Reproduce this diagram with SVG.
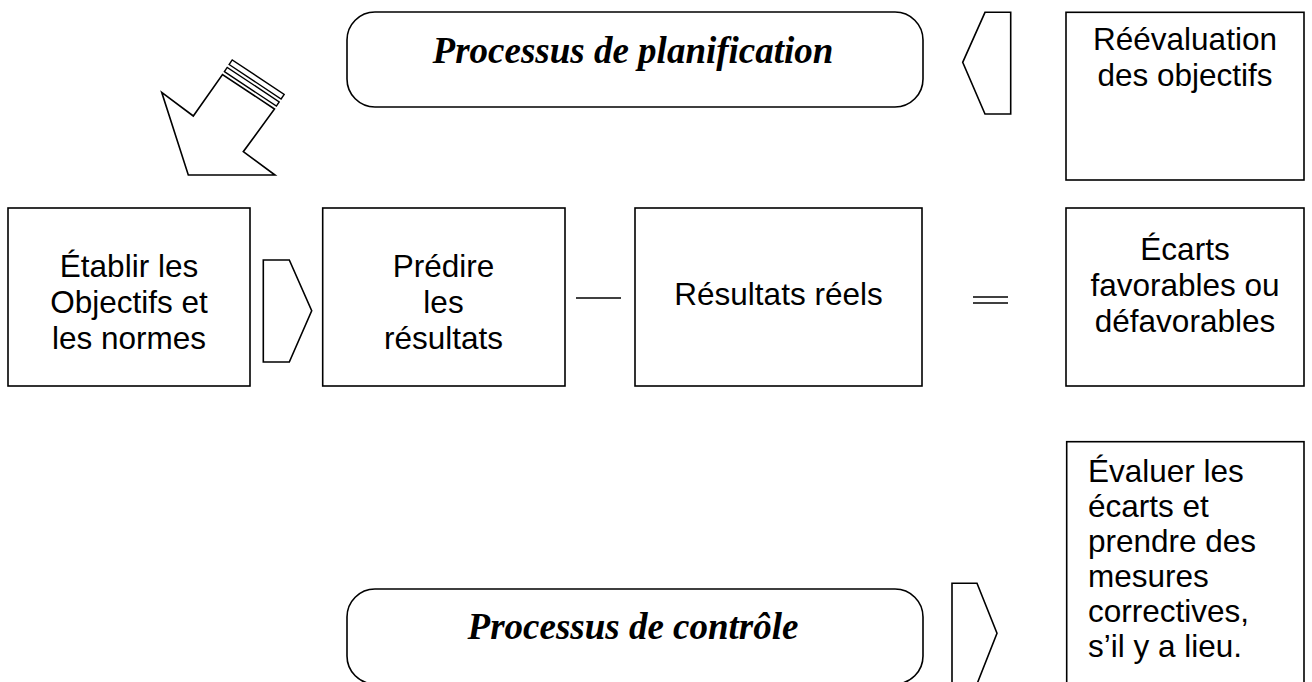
<svg xmlns="http://www.w3.org/2000/svg" width="1312" height="682" viewBox="0 0 1312 682">
<style>
.box{fill:#fff;stroke:#000;stroke-width:1.6}
.shp{fill:#fff;stroke:#000;stroke-width:1.6;stroke-linejoin:miter}
.stp{fill:#fff;stroke:#000;stroke-width:1.4}
.ln{fill:none;stroke:#000;stroke-width:1.6}
.t{font-family:"Liberation Sans",Arial,sans-serif;font-size:31.5px;fill:#000}
.c{text-anchor:middle}
.s{font-family:"Liberation Serif","Times New Roman",serif;font-size:37px;font-weight:bold;font-style:italic;fill:#000;text-anchor:middle}
</style>
<rect width="1312" height="682" fill="#fff"/>
<g id="connectors">
  <polygon class="shp" points="161.7,92.3 193.3,116 222.5,74.5 274.5,109 243.3,151.7 275,175 188.3,175"/>
  <polygon class="stp" points="224.4,71.6 276.4,106.1 279.2,101.9 227.2,67.4"/>
  <polygon class="stp" points="229.1,64.5 281.1,99 284.2,94.4 232.2,59.9"/>
  <polygon class="shp" points="985,12.3 1010.7,12.3 1010.7,114 985,114 962.7,62.3"/>
  <polygon class="shp" points="263.3,260 289.3,260 311.7,310.7 289.3,362 263.3,362"/>
  <polygon class="shp" points="952,583.3 977,583.3 997,633.3 977,684 952,684"/>
  <line class="ln" x1="576" y1="298" x2="621" y2="298"/>
  <line class="ln" x1="973" y1="297" x2="1008" y2="297"/>
  <line class="ln" x1="973" y1="303" x2="1008" y2="303"/>
</g>
<g id="planification">
  <rect class="box" x="347" y="12" width="576" height="95" rx="28" ry="28"/>
  <text class="s" x="633" y="63">Processus de planification</text>
</g>
<g id="reevaluation">
  <rect class="box" x="1066" y="12.3" width="238" height="167.7"/>
  <text class="t c" x="1185" y="50">Réévaluation</text>
  <text class="t c" x="1185" y="86">des objectifs</text>
</g>
<g id="etablir">
  <rect class="box" x="8" y="208" width="242" height="178"/>
  <text class="t c" x="129" y="277">Établir les</text>
  <text class="t c" x="129" y="313">Objectifs et</text>
  <text class="t c" x="129" y="349">les normes</text>
</g>
<g id="predire">
  <rect class="box" x="322.7" y="208" width="242.3" height="178"/>
  <text class="t c" x="443.5" y="277">Prédire</text>
  <text class="t c" x="443.5" y="313">les</text>
  <text class="t c" x="443.5" y="349">résultats</text>
</g>
<g id="resultats">
  <rect class="box" x="635" y="208" width="287" height="178"/>
  <text class="t c" x="778.5" y="305">Résultats réels</text>
</g>
<g id="ecarts">
  <rect class="box" x="1066" y="208" width="238" height="178"/>
  <text class="t c" x="1185" y="260">Écarts</text>
  <text class="t c" x="1185" y="296">favorables ou</text>
  <text class="t c" x="1185" y="332">défavorables</text>
</g>
<g id="evaluer">
  <rect class="box" x="1066.7" y="441.7" width="237.3" height="260"/>
  <text class="t" x="1088" y="482">Évaluer les</text>
  <text class="t" x="1088" y="517">écarts et</text>
  <text class="t" x="1088" y="552">prendre des</text>
  <text class="t" x="1088" y="587">mesures</text>
  <text class="t" x="1088" y="622">correctives,</text>
  <text class="t" x="1088" y="657">s’il y a lieu.</text>
</g>
<g id="controle">
  <rect class="box" x="347" y="589" width="576" height="95" rx="28" ry="28"/>
  <text class="s" x="633" y="639">Processus de contrôle</text>
</g>
</svg>
